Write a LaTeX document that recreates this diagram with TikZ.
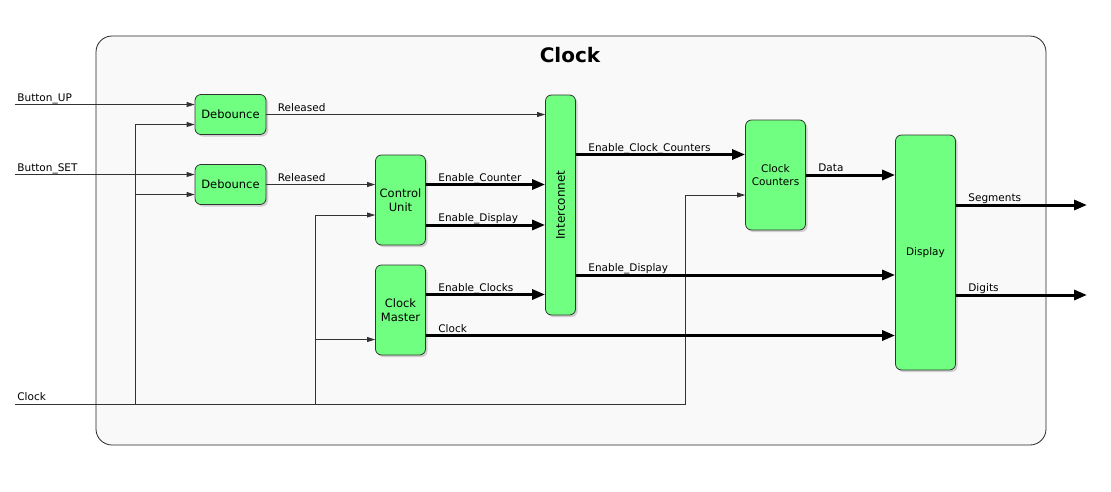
\documentclass[tikz,border=0pt]{standalone}
\usepackage{fontspec}
\setmainfont{DejaVu Sans}
\usetikzlibrary{arrows.meta,shadows}
\definecolor{boxgreen}{HTML}{70FF80}
\definecolor{panel}{HTML}{F9F9F9}
\definecolor{wire}{HTML}{333333}
\begin{document}
\begin{tikzpicture}[x=1pt,y=-1pt,
  blk/.style={draw=black!80, fill=boxgreen, rounded corners=6pt, line width=0.8pt,
    drop shadow={shadow xshift=2pt,shadow yshift=-2pt,fill=black!35},
    inner sep=0pt, align=center, font=\fontsize{11.5}{13.5}\selectfont},
  smallblk/.style={blk, font=\fontsize{10.5}{13}\selectfont},
  thinw/.style={draw=wire, line width=0.8pt, -{Triangle[length=8pt,width=5pt]}},
  thickw/.style={draw=black, line width=3pt, -{Triangle[length=13pt,width=10pt]}},
  plain/.style={draw=wire, line width=0.8pt},
  lbl/.style={pos=0, anchor=base west, inner sep=0pt, font=\fontsize{10.5}{12}\selectfont, xshift=11pt, yshift=3.5pt},
  inlbl/.style={pos=0, anchor=base west, inner sep=0pt, font=\fontsize{10.5}{12}\selectfont, xshift=2pt, yshift=3.5pt}]
\useasboundingbox (0,0) rectangle (1111,491);
\fill[white] (0,0) rectangle (1111,491);

% container
\draw[fill=panel, draw=black!85, line width=0.8pt, rounded corners=16pt] (96,36) rectangle (1046,445);
\node[font=\fontsize{20}{24}\selectfont\bfseries] (title) at (570,55) {Clock};

% blocks
\node[blk, minimum width=71pt, minimum height=40pt] (db1) at (230.5,114.5) {Debounce};
\node[blk, minimum width=71pt, minimum height=40pt] (db2) at (230.5,184.5) {Debounce};
\node[blk, minimum width=50pt, minimum height=90pt] (cu) at (400.5,200) {Control\\Unit};
\node[blk, minimum width=50pt, minimum height=90pt] (cm) at (400.5,310) {Clock\\Master};
\node[blk, minimum width=30pt, minimum height=220pt, font=\fontsize{12}{14}\selectfont] (ic) at (560.5,205) {\rotatebox{90}{Interconnet}};
\node[smallblk, minimum width=60pt, minimum height=110pt] (cc) at (775.5,175) {Clock\\Counters};
\node[smallblk, minimum width=60pt, minimum height=235pt] (dp) at (925.5,252.5) {Display};

% coordinates
\coordinate (inUP) at (15,104.5);
\coordinate (inSET) at (15,174.5);
\coordinate (inCLK) at (15,404);
\coordinate (jA) at (135,404);
\coordinate (jB) at (315,404);
\coordinate (jC) at (685,404);
\coordinate (yA1) at (0,124.5);
\coordinate (yA2) at (0,194.5);
\coordinate (yB1) at (0,215);
\coordinate (yB2) at (0,339.5);
\coordinate (yC) at (0,195);
\coordinate (yEC) at (0,184.5);
\coordinate (yED) at (0,225);
\coordinate (yECl) at (0,294.5);
\coordinate (yCk) at (0,335.5);
\coordinate (yECC) at (0,154.5);
\coordinate (yED2) at (0,275);
\coordinate (oSeg) at (1087,205);
\coordinate (oDig) at (1087,295);

% inputs
\draw[thinw] (inUP) -- node[inlbl]{Button\_UP} (db1.west |- inUP);
\draw[thinw] (inSET) -- node[inlbl]{Button\_SET} (db2.west |- inSET);
\draw[thinw] (inCLK) -- node[inlbl]{Clock} (jC) -- (jC |- yC) -- (cc.west |- yC);
\draw[plain] (jA) -- (jA |- yA1);
\draw[thinw] (jA |- yA1) -- (db1.west |- yA1);
\draw[thinw] (jA |- yA2) -- (db2.west |- yA2);
\draw[plain] (jB) -- (jB |- yB1);
\draw[thinw] (jB |- yB1) -- (cu.west |- yB1);
\draw[thinw] (jB |- yB2) -- (cm.west |- yB2);

% internal wires
\draw[thinw] (db1.east) -- node[lbl]{Released} (ic.west |- db1.east);
\draw[thinw] (db2.east) -- node[lbl]{Released} (cu.west |- db2.east);
\draw[thickw] (cu.east |- yEC) -- node[lbl]{Enable\_Counter} (ic.west |- yEC);
\draw[thickw] (cu.east |- yED) -- node[lbl]{Enable\_Display} (ic.west |- yED);
\draw[thickw] (cm.east |- yECl) -- node[lbl]{Enable\_Clocks} (ic.west |- yECl);
\draw[thickw] (cm.east |- yCk) -- node[lbl]{Clock} (dp.west |- yCk);
\draw[thickw] (ic.east |- yECC) -- node[lbl]{Enable\_Clock\_Counters} (cc.west |- yECC);
\draw[thickw] (ic.east |- yED2) -- node[lbl]{Enable\_Display} (dp.west |- yED2);
\draw[thickw] (cc.east) -- node[lbl]{Data} (dp.west |- cc.east);
\draw[thickw] (dp.east |- oSeg) -- node[lbl]{Segments} (oSeg);
\draw[thickw] (dp.east |- oDig) -- node[lbl]{Digits} (oDig);
\end{tikzpicture}
\end{document}
